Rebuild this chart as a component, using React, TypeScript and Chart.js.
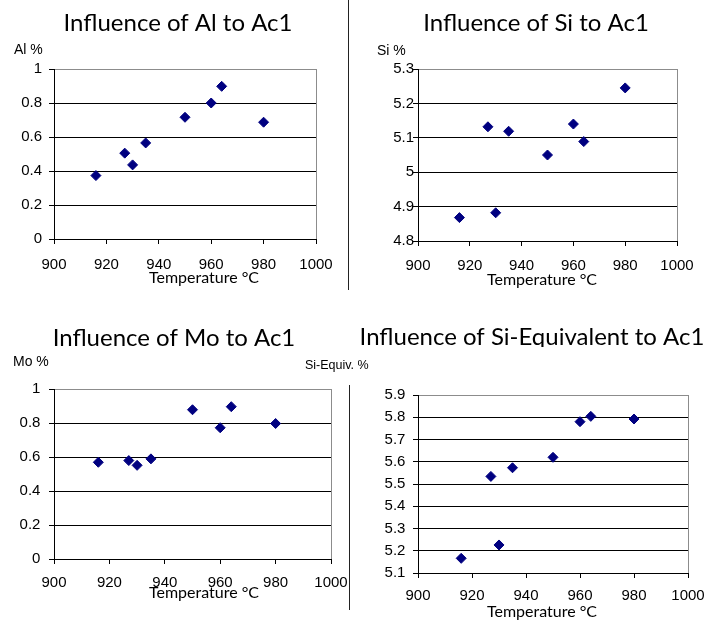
import { useEffect, useRef } from "react";
import { Chart, registerables } from "chart.js";

Chart.register(...registerables);

// Measured austenite start temperatures (Ac1), °C
const temperatures = [916, 927, 930, 935, 950, 960, 964, 980];

// Alloy contents at each temperature, mass-%
const alValues = [0.373, 0.505, 0.436, 0.565, 0.716, 0.8, 0.898, 0.687];
const siValues = [4.868, 5.132, 4.882, 5.119, 5.05, 5.14, 5.089, 5.245];
const moValues = [0.569, 0.579, 0.551, 0.589, 0.878, 0.772, 0.896, 0.797];
const siEquivValues = [5.166, 5.534, 5.226, 5.573, 5.62, 5.78, 5.804, 5.792];

// Axis ranges
const tempRange = { min: 900, max: 1000, step: 20 };
const alRange = { min: 0, max: 1, step: 0.2 };
const siRange = { min: 4.8, max: 5.3, step: 0.1 };
const moRange = { min: 0, max: 1, step: 0.2 };
const siEquivRange = { min: 5.1, max: 5.9, step: 0.1 };

const xAxisTitle = "Temperature °C";

const MARKER = "#000080";
const GRID = "#000000";
const FRAME = "#8c8c8c";
const TICK_FONT = "'Liberation Sans', Arial, sans-serif";
const TITLE_FONT = "Lato, 'Open Sans', sans-serif";

// Plain number labels: no thousands separator, no padded decimals
const formatTick = (v: number | string) => String(Math.round(Number(v) * 1000) / 1000);

type Panel = {
  title: string;
  yLabel: string;
  values: number[];
  range: { min: number; max: number; step: number };
  box: { left: number; top: number; width: number; height: number };
  area: { left: number; right: number; top: number; bottom: number };
  titlePos: { x: number; y: number; size: number; clip?: number };
  yLabelPos: { x: number; y: number; size: number };
  xLabelPos: { x: number; y: number };
  yPad: number;
  xPad: number;
};

const panels: Panel[] = [
  {
    title: "Influence of Al to Ac1",
    yLabel: "Al %",
    values: alValues,
    range: alRange,
    box: { left: 0, top: 0, width: 348, height: 300 },
    area: { left: 54, right: 316, top: 69, bottom: 239 },
    titlePos: { x: 178, y: 31, size: 24 },
    yLabelPos: { x: 14, y: 50, size: 14 },
    xLabelPos: { x: 204, y: 278 },
    yPad: 7,
    xPad: 11.7,
  },
  {
    title: "Influence of Si to Ac1",
    yLabel: "Si %",
    values: siValues,
    range: siRange,
    box: { left: 349, top: 0, width: 359, height: 300 },
    area: { left: 69, right: 328, top: 69, bottom: 241 },
    titlePos: { x: 187, y: 31, size: 24 },
    yLabelPos: { x: 28, y: 51, size: 14 },
    xLabelPos: { x: 193, y: 280 },
    yPad: -1,
    xPad: 11,
  },
  {
    title: "Influence of Mo to Ac1",
    yLabel: "Mo %",
    values: moValues,
    range: moRange,
    box: { left: 0, top: 305, width: 348, height: 318 },
    area: { left: 54, right: 331, top: 84, bottom: 254 },
    titlePos: { x: 174, y: 41, size: 24 },
    yLabelPos: { x: 13, y: 57, size: 14 },
    xLabelPos: { x: 204, y: 288 },
    yPad: 8.6,
    xPad: 9.8,
  },
  {
    title: "Influence of Si-Equivalent to Ac1",
    yLabel: "Si-Equiv. %",
    values: siEquivValues,
    range: siEquivRange,
    box: { left: 300, top: 305, width: 408, height: 318 },
    area: { left: 118, right: 388, top: 90, bottom: 268 },
    titlePos: { x: 232, y: 40, size: 24, clip: 42 },
    yLabelPos: { x: 5, y: 61, size: 12.5 },
    xLabelPos: { x: 242, y: 307 },
    yPad: 7.6,
    xPad: 9,
  },
];

// Draws the panel heading, the unit label above the value axis and the
// temperature axis caption.
const panelText = {
  id: "panelText",
  afterDraw(chart: any, _args: any, opts: any) {
    const ctx: CanvasRenderingContext2D = chart.ctx;
    ctx.save();
    ctx.fillStyle = "#000";

    ctx.save();
    if (opts.titleClip) {
      ctx.beginPath();
      ctx.rect(0, 0, chart.width, opts.titleClip);
      ctx.clip();
    }
    ctx.font = `${opts.titleSize}px ${TITLE_FONT}`;
    ctx.textAlign = "center";
    ctx.textBaseline = "alphabetic";
    ctx.fillText(opts.title, opts.titleX, opts.titleY);
    ctx.restore();

    ctx.font = `${opts.yLabelSize}px ${TICK_FONT}`;
    ctx.textAlign = "left";
    ctx.textBaseline = "middle";
    ctx.fillText(opts.yLabel, opts.yLabelX, opts.yLabelY);

    ctx.font = `16px ${TITLE_FONT}`;
    ctx.textAlign = "center";
    ctx.textBaseline = "middle";
    ctx.fillText(opts.xLabel, opts.xLabelX, opts.xLabelY);
    ctx.restore();
  },
};

function ScatterPanel({ panel }: { panel: Panel }) {
  const ref = useRef<HTMLCanvasElement | null>(null);

  useEffect(() => {
    if (!ref.current) return;
    const { box, area, range } = panel;
    const points = temperatures.map((t, i) => ({ x: t, y: panel.values[i] }));

    const chart = new Chart(ref.current, {
      type: "scatter",
      data: {
        datasets: [
          {
            data: points,
            pointStyle: "rectRot",
            pointRadius: 5,
            pointHoverRadius: 5,
            backgroundColor: MARKER,
            borderColor: MARKER,
            borderWidth: 1,
          },
        ],
      },
      options: {
        responsive: false,
        animation: false,
        events: [],
        layout: {
          padding: {
            left: 0,
            top: area.top,
            right: box.width - area.right,
            bottom: 0,
          },
        },
        plugins: {
          legend: { display: false },
          tooltip: { enabled: false },
          title: { display: false },
          panelText: {
            title: panel.title,
            titleX: panel.titlePos.x,
            titleY: panel.titlePos.y,
            titleSize: panel.titlePos.size,
            titleClip: panel.titlePos.clip || 0,
            yLabel: panel.yLabel,
            yLabelX: panel.yLabelPos.x,
            yLabelY: panel.yLabelPos.y,
            yLabelSize: panel.yLabelPos.size,
            xLabel: xAxisTitle,
            xLabelX: panel.xLabelPos.x,
            xLabelY: panel.xLabelPos.y,
          },
        } as any,
        scales: {
          x: {
            type: "linear",
            min: tempRange.min,
            max: tempRange.max,
            afterFit: (s: any) => {
              s.height = box.height - area.bottom;
              s.paddingLeft = 0;
              s.paddingRight = 0;
            },
            ticks: {
              stepSize: tempRange.step,
              color: "#000",
              font: { family: TICK_FONT, size: 15 },
              padding: panel.xPad,
              maxRotation: 0,
              autoSkip: false,
              callback: formatTick,
            },
            grid: {
              drawOnChartArea: true,
              color: (c: any) =>
                c.tick && c.tick.value === tempRange.max ? FRAME : "rgba(0,0,0,0)",
              tickColor: GRID,
              tickLength: 5,
              lineWidth: 1,
            },
            border: { color: GRID, width: 1 },
          },
          y: {
            type: "linear",
            min: range.min,
            max: range.max,
            afterFit: (s: any) => {
              s.width = area.left;
              s.paddingTop = 0;
              s.paddingBottom = 0;
            },
            ticks: {
              stepSize: range.step,
              color: "#000",
              font: { family: TICK_FONT, size: 15 },
              padding: panel.yPad,
              autoSkip: false,
              callback: formatTick,
            },
            grid: {
              color: (c: any) =>
                c.tick && Math.abs(c.tick.value - range.max) < 1e-9 ? FRAME : GRID,
              tickColor: GRID,
              tickLength: 5,
              lineWidth: 1,
            },
            border: { color: GRID, width: 1 },
          },
        },
      },
      plugins: [panelText],
    });

    return () => chart.destroy();
  }, [panel]);

  return (
    <canvas
      ref={ref}
      width={panel.box.width}
      height={panel.box.height}
      style={{
        position: "absolute",
        left: panel.box.left,
        top: panel.box.top,
        width: panel.box.width,
        height: panel.box.height,
      }}
    />
  );
}

export default function App() {
  return (
    <div
      style={{
        position: "absolute",
        left: 0,
        top: 0,
        width: 708,
        height: 623,
        background: "#fff",
        overflow: "hidden",
      }}
    >
      {panels.map((p) => (
        <ScatterPanel key={p.title} panel={p} />
      ))}
      <div
        style={{ position: "absolute", left: 348, top: 0, width: 1, height: 290, background: "#222" }}
      />
      <div
        style={{ position: "absolute", left: 349, top: 385, width: 1, height: 225, background: "#222" }}
      />
    </div>
  );
}
